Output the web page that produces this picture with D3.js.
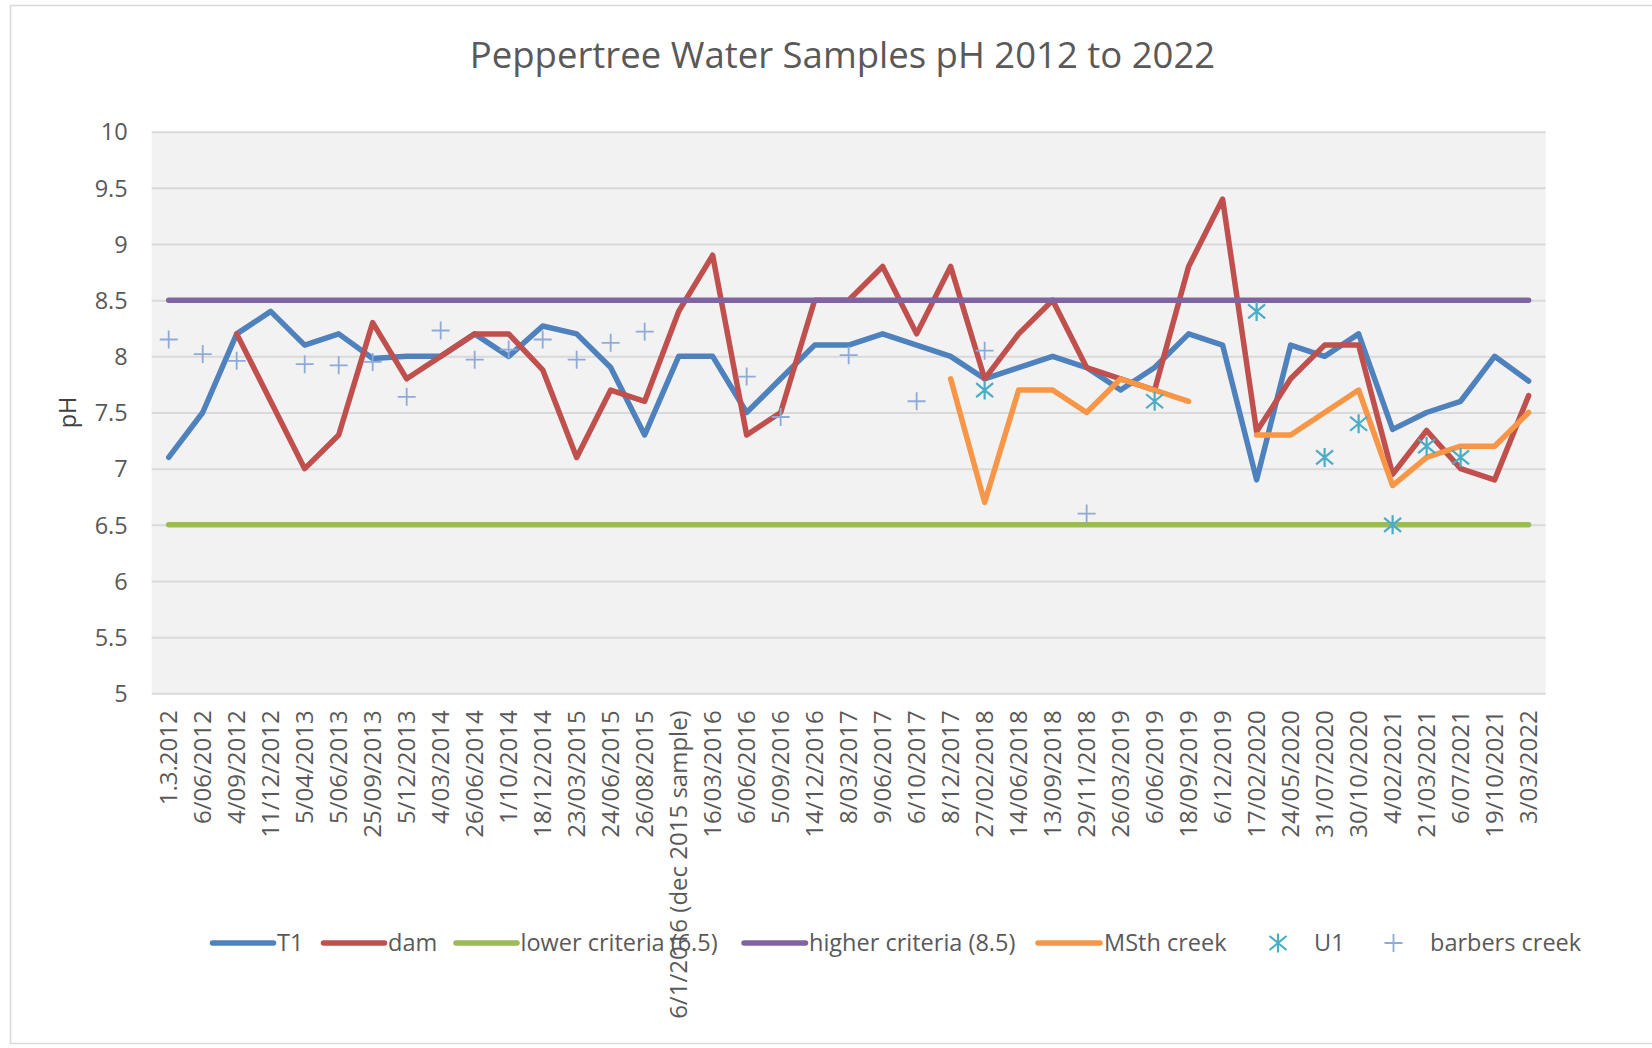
<!DOCTYPE html>
<html><head><meta charset="utf-8">
<script src="https://cdn.jsdelivr.net/npm/d3@7"></script>
<style>
html,body{margin:0;padding:0;background:#fff;}
svg{display:block;}
text{font-family:"Open Sans",sans-serif;}
</style></head><body>
<svg id="chart" width="1652" height="1048"></svg>
<script>
const categories = ["1.3.2012","6/06/2012","4/09/2012","11/12/2012","5/04/2013","5/06/2013","25/09/2013","5/12/2013","4/03/2014","26/06/2014","1/10/2014","18/12/2014","23/03/2015","24/06/2015","26/08/2015","6/1/2016 (dec 2015 sample)","16/03/2016","6/06/2016","5/09/2016","14/12/2016","8/03/2017","9/06/2017","6/10/2017","8/12/2017","27/02/2018","14/06/2018","13/09/2018","29/11/2018","26/03/2019","6/06/2019","18/09/2019","6/12/2019","17/02/2020","24/05/2020","31/07/2020","30/10/2020","4/02/2021","21/03/2021","6/07/2021","19/10/2021","3/03/2022"];
const t1 = [7.1,7.5,8.2,8.4,8.1,8.2,7.98,8.0,8.0,8.2,8.0,8.27,8.2,7.9,7.3,8.0,8.0,7.5,7.8,8.1,8.1,8.2,8.1,8.0,7.8,7.9,8.0,7.9,7.7,7.9,8.2,8.1,6.9,8.1,8.0,8.2,7.35,7.5,7.6,8.0,7.78];
const dam = [null,null,8.2,7.6,7.0,7.3,8.3,7.8,8.0,8.2,8.2,7.88,7.1,7.7,7.6,8.4,8.9,7.3,7.5,8.5,8.5,8.8,8.2,8.8,7.8,8.2,8.5,7.9,7.8,7.7,8.8,9.4,7.33,7.8,8.1,8.1,6.95,7.34,7.0,6.9,7.65];
const lowerCriteria = categories.map(() => 6.5);
const higherCriteria = categories.map(() => 8.5);
const msthCreek = [null,null,null,null,null,null,null,null,null,null,null,null,null,null,null,null,null,null,null,null,null,null,null,7.8,6.7,7.7,7.7,7.5,7.8,7.7,7.6,null,7.3,7.3,7.5,7.7,6.85,7.1,7.2,7.2,7.5];
const u1 = [null,null,null,null,null,null,null,null,null,null,null,null,null,null,null,null,null,null,null,null,null,null,null,null,7.7,null,null,null,null,7.6,null,null,8.4,null,7.1,7.4,6.5,7.2,7.1,null,null];
const barbersCreek = [8.15,8.02,7.96,null,7.93,7.92,7.95,7.64,8.23,7.97,8.06,8.15,7.97,8.12,8.22,null,null,7.82,7.46,null,8.01,null,7.6,null,8.05,null,null,6.6,null,null,null,null,null,null,null,null,null,null,null,null,null];
const yTickValues = [5,5.5,6,6.5,7,7.5,8,8.5,9,9.5,10];
const yTickLabels = ["5","5.5","6","6.5","7","7.5","8","8.5","9","9.5","10"];
const seriesNames = ["T1","dam","lower criteria (6.5)","higher criteria (8.5)","MSth creek","U1","barbers creek"];
const titleText = "Peppertree Water Samples pH 2012 to 2022";
const yAxisTitle = "pH";

const svg = d3.select("#chart");
const plot = {left:151.7, right:1545.6, top:131.7, bottom:693.3};
const x = d3.scaleBand().domain(categories).range([plot.left, plot.right]).padding(0);
const y = d3.scaleLinear().domain([5,10]).range([plot.bottom, plot.top]);
const cx = i => x(categories[i]) + x.bandwidth()/2;
const TXT = "#595959";
const FS = 23.5;

svg.append("rect").attr("x",10.5).attr("y",5.5).attr("width",1700).attr("height",1038)
  .attr("fill","#fff").attr("stroke","#d9d9d9").attr("stroke-width",1.5);
svg.append("rect").attr("x",plot.left).attr("y",plot.top)
  .attr("width",plot.right-plot.left).attr("height",plot.bottom-plot.top).attr("fill","#f2f2f2");

// gridlines
const grid = svg.append("g").attr("transform",`translate(${plot.left},0)`)
  .call(d3.axisLeft(y).tickValues(yTickValues).tickSize(-(plot.right-plot.left)).tickFormat(""));
grid.select(".domain").remove();
grid.selectAll("line").attr("stroke","#d9d9d9").attr("stroke-width",2);

// y tick labels
const yAx = svg.append("g").attr("transform",`translate(${plot.left},0)`)
  .call(d3.axisLeft(y).tickValues(yTickValues).tickSize(0).tickPadding(24)
    .tickFormat((d,i) => yTickLabels[i]));
yAx.select(".domain").remove();
yAx.selectAll("text").attr("font-size",FS).attr("fill",TXT).attr("font-family","Open Sans").attr("dy","0.35em");

// x labels
const xAx = svg.append("g").attr("transform",`translate(0,${plot.bottom})`)
  .call(d3.axisBottom(x).tickSize(0));
xAx.select(".domain").remove();
xAx.selectAll("text").attr("font-size",24).attr("fill",TXT).attr("font-family","Open Sans")
  .attr("transform","rotate(-90)").attr("text-anchor","end")
  .attr("x",-17).attr("y",0).attr("dy","0.35em");

// y axis title
svg.append("text").attr("transform",`translate(68,412.5) rotate(-90)`)
  .attr("text-anchor","middle").attr("dy","0.35em").attr("font-size",FS).attr("fill","#404040").text(yAxisTitle);

// title
svg.append("text").attr("x",842.5).attr("y",68).attr("text-anchor","middle")
  .attr("font-size",36.5).attr("fill",TXT).text(titleText);

const colors = {t1:"#4f81bd", dam:"#c0504d", lower:"#9bbb59", higher:"#8064a2", msth:"#f79646", u1:"#4bacc6", barbers:"#8eaad8"};
const line = d3.line().defined(d => d.v != null).x(d => cx(d.i)).y(d => y(d.v));
const toPts = arr => arr.map((v,i) => ({v,i}));
const lineSeries = [[t1,colors.t1],[dam,colors.dam],[lowerCriteria,colors.lower],[higherCriteria,colors.higher],[msthCreek,colors.msth]];
const lg = svg.append("g");
lineSeries.forEach(([arr,c]) => {
  lg.append("path").attr("d", line(toPts(arr))).attr("fill","none").attr("stroke",c)
    .attr("stroke-width",5.5).attr("stroke-linejoin","round").attr("stroke-linecap","round");
});

const starPath = "M0,-9.5V9.5M-8.5,-7L8.5,7M-8.5,7L8.5,-7";
const plusPath = "M-9,0H9M0,-9V9";
svg.append("g").selectAll("path").data(toPts(u1).filter(d => d.v != null)).join("path")
  .attr("transform", d => `translate(${cx(d.i)},${y(d.v)})`).attr("d", starPath)
  .attr("fill","none").attr("stroke",colors.u1).attr("stroke-width",2.2);
svg.append("g").selectAll("path").data(toPts(barbersCreek).filter(d => d.v != null)).join("path")
  .attr("transform", d => `translate(${cx(d.i)},${y(d.v)})`).attr("d", plusPath)
  .attr("fill","none").attr("stroke",colors.barbers).attr("stroke-width",1.8);

// legend
const LY = 943;
const legendItems = [
  {name:seriesNames[0], type:"line", c:colors.t1, x0:212.5, x1:273.5, tx:277},
  {name:seriesNames[1], type:"line", c:colors.dam, x0:323.5, x1:384.5, tx:388},
  {name:seriesNames[2], type:"line", c:colors.lower, x0:456, x1:517, tx:520.5},
  {name:seriesNames[3], type:"line", c:colors.higher, x0:744, x1:805.5, tx:809},
  {name:seriesNames[4], type:"line", c:colors.msth, x0:1038, x1:1100, tx:1104},
  {name:seriesNames[5], type:"star", c:colors.u1, mx:1278, tx:1314},
  {name:seriesNames[6], type:"plus", c:colors.barbers, mx:1393.5, tx:1430}
];
const leg = svg.append("g");
legendItems.forEach(it => {
  if (it.type === "line") {
    leg.append("line").attr("x1",it.x0).attr("x2",it.x1).attr("y1",LY).attr("y2",LY)
      .attr("stroke",it.c).attr("stroke-width",5.5).attr("stroke-linecap","round");
  } else {
    leg.append("path").attr("transform",`translate(${it.mx},${LY})`)
      .attr("d", it.type === "star" ? starPath : plusPath).attr("fill","none")
      .attr("stroke",it.c).attr("stroke-width", it.type === "star" ? 2.2 : 1.8);
  }
  leg.append("text").attr("x",it.tx).attr("y",LY).attr("dy","0.35em")
    .attr("font-size",FS).attr("fill",TXT).text(it.name);
});
</script>
</body></html>
